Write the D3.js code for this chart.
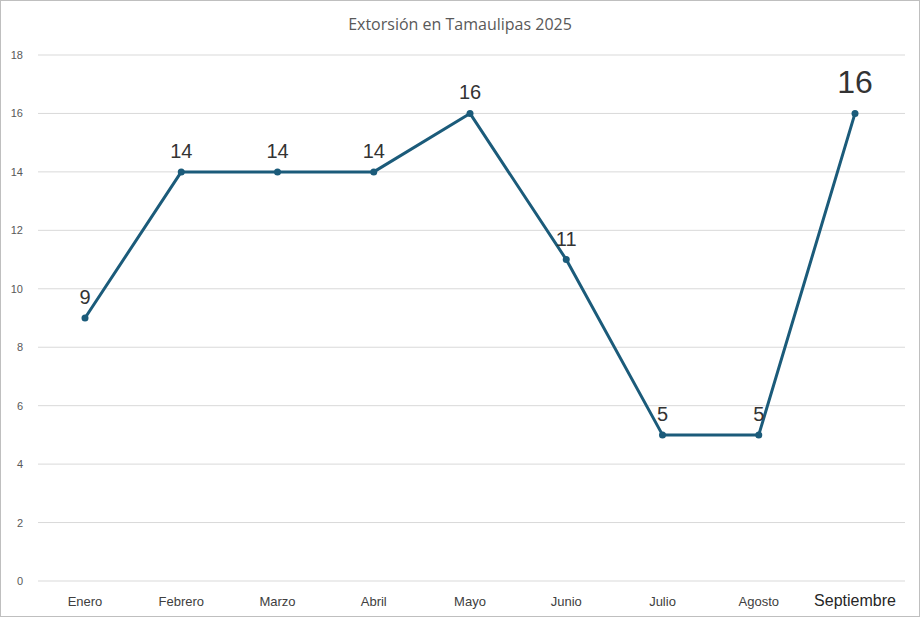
<!DOCTYPE html>
<html>
<head>
<meta charset="utf-8">
<script src="https://cdn.jsdelivr.net/npm/d3@7"></script>
<style>
  body { margin: 0; background: #fff; }
</style>
</head>
<body>
<script>
// data
var months = ["Enero", "Febrero", "Marzo", "Abril", "Mayo", "Junio", "Julio", "Agosto", "Septiembre"];
var values = [9, 14, 14, 14, 16, 11, 5, 5, 16];
var yTicks = [0, 2, 4, 6, 8, 10, 12, 14, 16, 18];

var width = 920, height = 617;
var lineColor = "#1b5b7a";

var svg = d3.select("body")
    .append("svg")
    .attr("width", width)
    .attr("height", height);

// frame
svg.append("rect")
    .attr("x", 0.5).attr("y", 0.5)
    .attr("width", width - 1).attr("height", height - 1)
    .attr("fill", "#fff")
    .attr("stroke", "#bfbfbf");

var x = d3.scalePoint().domain(months).range([85, 855]);
var y = d3.scaleLinear().domain([0, 18]).range([581, 55]);

// gridlines
svg.selectAll(".grid")
    .data(yTicks)
    .enter().append("line")
    .attr("x1", 38).attr("x2", 905)
    .attr("y1", function(d) { return y(d); })
    .attr("y2", function(d) { return y(d); })
    .attr("stroke", "#d9d9d9")
    .attr("stroke-width", 1);

// y labels
svg.selectAll(".ylab")
    .data(yTicks)
    .enter().append("text")
    .attr("x", 23)
    .attr("y", function(d) { return y(d) + 4; })
    .attr("text-anchor", "end")
    .attr("font-family", "Liberation Sans, Arial, sans-serif")
    .attr("font-size", 11)
    .attr("fill", "#595959")
    .text(function(d) { return d; });

// x labels
svg.selectAll(".xlab")
    .data(months)
    .enter().append("text")
    .attr("x", function(d) { return x(d); })
    .attr("y", function(d, i) { return i == months.length - 1 ? 606 : 606; })
    .attr("text-anchor", "middle")
    .attr("font-family", "Liberation Sans, Arial, sans-serif")
    .attr("font-size", function(d, i) { return i == months.length - 1 ? 16 : 13; })
    .attr("fill", function(d, i) { return i == months.length - 1 ? "#262626" : "#404040"; })
    .text(function(d) { return d; });

// title
svg.append("text")
    .attr("x", 460).attr("y", 30)
    .attr("text-anchor", "middle")
    .attr("font-family", "Open Sans, sans-serif")
    .attr("font-size", 16)
    .attr("fill", "#595959")
    .text("Extorsión en Tamaulipas 2025");

// line
var line = d3.line()
    .x(function(d, i) { return x(months[i]); })
    .y(function(d) { return y(d); });

svg.append("path")
    .datum(values)
    .attr("d", line)
    .attr("fill", "none")
    .attr("stroke", lineColor)
    .attr("stroke-width", 3)
    .attr("stroke-linejoin", "round");

svg.selectAll(".pt")
    .data(values)
    .enter().append("circle")
    .attr("cx", function(d, i) { return x(months[i]); })
    .attr("cy", function(d) { return y(d); })
    .attr("r", 3.5)
    .attr("fill", lineColor);

// data labels
svg.selectAll(".dlab")
    .data(values)
    .enter().append("text")
    .attr("x", function(d, i) { return x(months[i]); })
    .attr("y", function(d, i) { return i == values.length - 1 ? y(d) - 20 : y(d) - 14; })
    .attr("text-anchor", "middle")
    .attr("font-family", "Liberation Sans, Arial, sans-serif")
    .attr("font-size", function(d, i) { return i == values.length - 1 ? 32 : 20; })
    .attr("fill", "#333")
    .text(function(d) { return d; });
</script>
</body>
</html>
